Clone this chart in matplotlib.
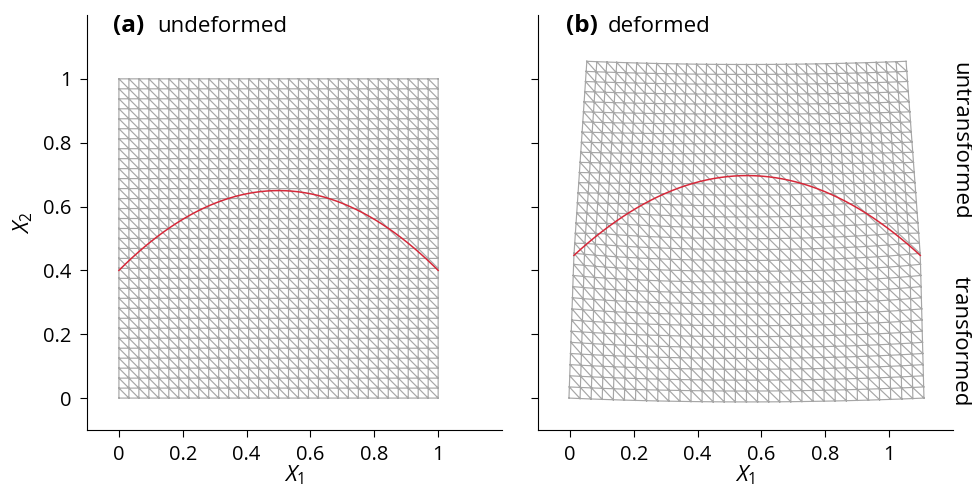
import numpy as np
import matplotlib
matplotlib.use("Agg")
import matplotlib.pyplot as plt
import matplotlib.tri as mtri

plt.rcParams['font.family'] = ['Open Sans', 'DejaVu Sans']
plt.rcParams['mathtext.fontset'] = 'custom'
plt.rcParams['mathtext.it'] = 'Open Sans:italic'
plt.rcParams['mathtext.rm'] = 'Open Sans'

# ---- data ----
n_cells = 32                      # mesh cells per side
curve_coef = [0.4, 1.0]           # X2 = c0 + c1 * X1 * (1 - X1)
# deformed control values
bottom_x1 = [-0.003, 1.112]       # offset, stretch of bottom edge
bottom_sag = 0.012
curve_x1 = [0.0125, 1.085]        # offset, stretch along the interface curve
curve_dx2 = 0.047                 # vertical shift along the interface
top_x1 = [0.053, 1.0]             # offset, stretch of top edge
top_dx2 = 0.055
top_sag = 0.010
xticks = [0, 0.2, 0.4, 0.6, 0.8, 1]
xticklabels = ['0', '0.2', '0.4', '0.6', '0.8', '1']
yticks = [0, 0.2, 0.4, 0.6, 0.8, 1]
yticklabels = ['0', '0.2', '0.4', '0.6', '0.8', '1']

# ---- mesh ----
g = np.linspace(0, 1, n_cells + 1)
X1, X2 = np.meshgrid(g, g)
X1 = X1.ravel(); X2 = X2.ravel()
idx = lambda i, j: j * (n_cells + 1) + i
tris = []
for j in range(n_cells):
    for i in range(n_cells):
        tl = idx(i, j + 1); tr = idx(i + 1, j + 1)
        bl = idx(i, j); br = idx(i + 1, j)
        tris.append([tl, bl, br])
        tris.append([tl, br, tr])
tris = np.array(tris)

def curve(x):
    return curve_coef[0] + curve_coef[1] * x * (1 - x)

def deform(x1, x2):
    c = curve(x1)
    bump = 4 * x1 * (1 - x1)
    lower = x2 <= c
    t = np.clip(x2 / c, 0, 1)
    tp = np.clip((x2 - c) / (1 - c), 0, 1)
    cx1 = curve_x1[0] + curve_x1[1] * x1
    bx1 = bottom_x1[0] + bottom_x1[1] * x1
    tx1 = top_x1[0] + top_x1[1] * x1
    y1_low = (1 - t) * bx1 + t * cx1
    y2_low = x2 + curve_dx2 * t - bottom_sag * (1 - t) * bump
    y1_up = (1 - tp) * cx1 + tp * tx1
    y2_up = x2 + curve_dx2 * (1 - tp) + top_dx2 * tp - top_sag * tp * bump
    return np.where(lower, y1_low, y1_up), np.where(lower, y2_low, y2_up)

xc = np.linspace(0, 1, 200)
yc = curve(xc)
D1, D2 = deform(X1, X2)
dc1, dc2 = deform(xc, yc)

mesh_color = '#a6a6a6'
red = '#d62839'

fig = plt.figure(figsize=(9.72, 4.92), dpi=100)
W, H = 972, 492
axA = fig.add_axes([87 / W, 1 - 430 / H, 415 / W, 415 / H])
axB = fig.add_axes([538 / W, 1 - 430 / H, 415 / W, 415 / H])

for ax, (p1, p2), (q1, q2) in [(axA, (X1, X2), (xc, yc)), (axB, (D1, D2), (dc1, dc2))]:
    tri = mtri.Triangulation(p1, p2, tris)
    ax.triplot(tri, color=mesh_color, lw=0.85)
    ax.plot(q1, q2, color=red, lw=1.1, zorder=3)
    ax.set_xlim(-0.1, 1.2)
    ax.set_ylim(-0.1, 1.2)
    for s in ['top', 'right']:
        ax.spines[s].set_visible(False)
    ax.set_xticks(xticks)
    ax.set_xticklabels(xticklabels, fontsize=14.5)
    ax.set_yticks(yticks)
    ax.tick_params(length=5, width=0.8, pad=6)
    ax.set_xlabel(r'$X_1$', fontsize=16, labelpad=-1)

axA.set_yticklabels(yticklabels, fontsize=14.5)
axB.set_yticklabels([])
axA.set_ylabel(r'$X_2$', fontsize=16, labelpad=6)

fig.text(113 / W, 1 - 26 / H, '(a)', fontsize=17.5, fontweight='bold', va='center', ha='left')
fig.text(157 / W, 1 - 26 / H, 'undeformed', fontsize=16, va='center', ha='left')
fig.text(566 / W, 1 - 26 / H, '(b)', fontsize=17.5, fontweight='bold', va='center', ha='left')
fig.text(608 / W, 1 - 26 / H, 'deformed', fontsize=16, va='center', ha='left')
fig.text(960 / W, 1 - 141 / H, 'untransformed', fontsize=16, rotation=270, va='center', ha='center')
fig.text(960 / W, 1 - 341 / H, 'transformed', fontsize=16, rotation=270, va='center', ha='center')

fig.savefig('out.png', dpi=100)
